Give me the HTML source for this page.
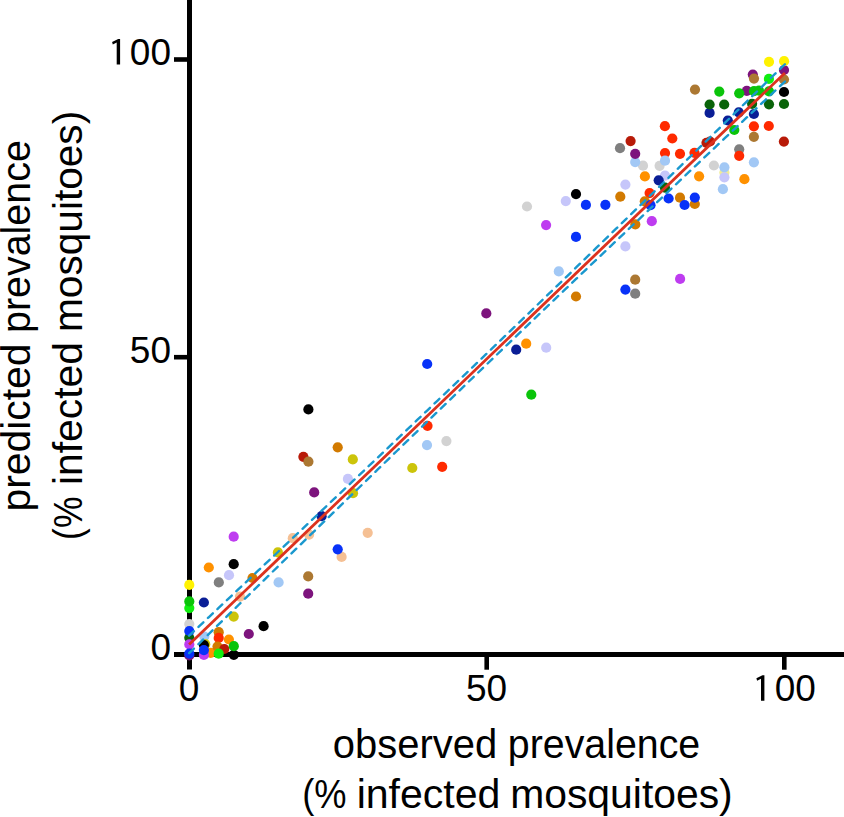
<!DOCTYPE html>
<html><head><meta charset="utf-8"><style>
html,body{margin:0;padding:0;background:#fff;}
svg{display:block;}
text{font-family:"Liberation Sans",sans-serif;fill:#000;}
</style></head><body>
<svg width="844" height="817" viewBox="0 0 844 817">
<rect width="844" height="817" fill="#fff"/>
<g stroke="#000" fill="none">
<line x1="189.5" y1="0" x2="189.5" y2="669.5" stroke-width="5"/>
<line x1="174" y1="654.5" x2="844" y2="654.5" stroke-width="5"/>
<line x1="174" y1="59.5" x2="190" y2="59.5" stroke-width="4.6"/>
<line x1="174" y1="357.2" x2="190" y2="357.2" stroke-width="4.6"/>
<line x1="486.7" y1="654" x2="486.7" y2="669.7" stroke-width="4.6"/>
<line x1="784.3" y1="654" x2="784.3" y2="669.7" stroke-width="4.6"/>
</g>
<g><circle cx="189.3" cy="584.9" r="5.1" fill="#FFF200"/>
<circle cx="189.3" cy="608.1" r="5.1" fill="#10EE10"/>
<circle cx="189.3" cy="601.4" r="5.1" fill="#0AC40A"/>
<circle cx="189.3" cy="624.0" r="5.1" fill="#D2D2D2"/>
<circle cx="189.3" cy="637.8" r="5.1" fill="#0A640A"/>
<circle cx="189.3" cy="631.0" r="5.1" fill="#0832F8"/>
<circle cx="189.3" cy="655.5" r="5.1" fill="#7D147D"/>
<circle cx="189.3" cy="644.4" r="5.1" fill="#BE3CF0"/>
<circle cx="189.3" cy="653.6" r="5.1" fill="#0832F8"/>
<circle cx="203.9" cy="602.5" r="5.1" fill="#0A1E96"/>
<circle cx="204.3" cy="636.5" r="5.1" fill="#A2C8F5"/>
<circle cx="210.7" cy="652.8" r="5.1" fill="#FF9100"/>
<circle cx="205.2" cy="644.2" r="5.1" fill="#CCC40A"/>
<circle cx="203.9" cy="645.0" r="5.1" fill="#000000"/>
<circle cx="203.9" cy="654.9" r="5.1" fill="#BE3CF0"/>
<circle cx="203.9" cy="650.1" r="5.1" fill="#0832F8"/>
<circle cx="208.8" cy="567.5" r="5.1" fill="#FF9100"/>
<circle cx="218.8" cy="582.4" r="5.1" fill="#7F7F7F"/>
<circle cx="218.7" cy="632.2" r="5.1" fill="#D27A00"/>
<circle cx="218.7" cy="637.9" r="5.1" fill="#FF2A00"/>
<circle cx="217.5" cy="646.6" r="5.1" fill="#D27A00"/>
<circle cx="224.3" cy="649.0" r="5.1" fill="#B81A08"/>
<circle cx="218.7" cy="653.7" r="5.1" fill="#10EE10"/>
<circle cx="229.0" cy="575.2" r="5.1" fill="#C6C6FA"/>
<circle cx="233.8" cy="654.8" r="5.1" fill="#000000"/>
<circle cx="228.9" cy="639.5" r="5.1" fill="#FF9100"/>
<circle cx="233.8" cy="646.2" r="5.1" fill="#0AC40A"/>
<circle cx="233.7" cy="564.2" r="5.1" fill="#000000"/>
<circle cx="233.7" cy="616.6" r="5.1" fill="#CCC40A"/>
<circle cx="233.7" cy="536.7" r="5.1" fill="#BE3CF0"/>
<circle cx="240.0" cy="596.6" r="5.1" fill="#F5C094"/>
<circle cx="248.8" cy="634.0" r="5.1" fill="#7D147D"/>
<circle cx="252.5" cy="578.0" r="5.1" fill="#D27A00"/>
<circle cx="263.6" cy="626.2" r="5.1" fill="#000000"/>
<circle cx="277.9" cy="552.4" r="5.1" fill="#CCC40A"/>
<circle cx="278.6" cy="582.4" r="5.1" fill="#A2C8F5"/>
<circle cx="292.8" cy="538.2" r="5.1" fill="#F5C094"/>
<circle cx="308.2" cy="576.4" r="5.1" fill="#AC7832"/>
<circle cx="308.2" cy="593.7" r="5.1" fill="#7D147D"/>
<circle cx="309.1" cy="534.6" r="5.1" fill="#F5C094"/>
<circle cx="314.2" cy="492.4" r="5.1" fill="#7D147D"/>
<circle cx="321.6" cy="516.2" r="5.1" fill="#0A1E96"/>
<circle cx="308.4" cy="409.4" r="5.1" fill="#000000"/>
<circle cx="303.4" cy="456.8" r="5.1" fill="#B81A08"/>
<circle cx="308.4" cy="461.7" r="5.1" fill="#AC7832"/>
<circle cx="337.7" cy="447.3" r="5.1" fill="#D27A00"/>
<circle cx="352.8" cy="459.4" r="5.1" fill="#CCC40A"/>
<circle cx="347.9" cy="478.9" r="5.1" fill="#C6C6FA"/>
<circle cx="353.0" cy="493.2" r="5.1" fill="#CCC40A"/>
<circle cx="367.7" cy="532.8" r="5.1" fill="#F5C094"/>
<circle cx="341.6" cy="556.9" r="5.1" fill="#F5C094"/>
<circle cx="337.7" cy="549.3" r="5.1" fill="#0832F8"/>
<circle cx="412.3" cy="468.0" r="5.1" fill="#CCC40A"/>
<circle cx="442.2" cy="466.8" r="5.1" fill="#FF2A00"/>
<circle cx="427.0" cy="445.1" r="5.1" fill="#A2C8F5"/>
<circle cx="446.4" cy="441.1" r="5.1" fill="#D2D2D2"/>
<circle cx="427.5" cy="425.8" r="5.1" fill="#FF2A00"/>
<circle cx="427.2" cy="364.0" r="5.1" fill="#0832F8"/>
<circle cx="486.3" cy="313.4" r="5.1" fill="#7D147D"/>
<circle cx="526.2" cy="343.7" r="5.1" fill="#FF9100"/>
<circle cx="516.2" cy="349.7" r="5.1" fill="#0A1E96"/>
<circle cx="546.2" cy="347.7" r="5.1" fill="#C6C6FA"/>
<circle cx="531.3" cy="394.7" r="5.1" fill="#0AC40A"/>
<circle cx="558.8" cy="271.4" r="5.1" fill="#A2C8F5"/>
<circle cx="576.0" cy="296.5" r="5.1" fill="#D27A00"/>
<circle cx="546.1" cy="225.1" r="5.1" fill="#BE3CF0"/>
<circle cx="576.0" cy="236.9" r="5.1" fill="#0832F8"/>
<circle cx="527.0" cy="206.5" r="5.1" fill="#D2D2D2"/>
<circle cx="565.8" cy="201.1" r="5.1" fill="#C6C6FA"/>
<circle cx="576.0" cy="194.1" r="5.1" fill="#000000"/>
<circle cx="585.9" cy="204.9" r="5.1" fill="#0832F8"/>
<circle cx="605.4" cy="204.8" r="5.1" fill="#0832F8"/>
<circle cx="620.3" cy="196.7" r="5.1" fill="#D27A00"/>
<circle cx="625.4" cy="184.6" r="5.1" fill="#C6C6FA"/>
<circle cx="625.4" cy="246.4" r="5.1" fill="#C6C6FA"/>
<circle cx="635.3" cy="224.4" r="5.1" fill="#D27A00"/>
<circle cx="651.8" cy="221.2" r="5.1" fill="#BE3CF0"/>
<circle cx="635.2" cy="279.7" r="5.1" fill="#AC7832"/>
<circle cx="625.4" cy="289.6" r="5.1" fill="#0832F8"/>
<circle cx="635.2" cy="293.7" r="5.1" fill="#7F7F7F"/>
<circle cx="680.1" cy="278.9" r="5.1" fill="#BE3CF0"/>
<circle cx="620.0" cy="148.2" r="5.1" fill="#7F7F7F"/>
<circle cx="630.6" cy="141.1" r="5.1" fill="#B81A08"/>
<circle cx="643.0" cy="165.7" r="5.1" fill="#D2D2D2"/>
<circle cx="635.2" cy="162.1" r="5.1" fill="#A2C8F5"/>
<circle cx="635.2" cy="153.8" r="5.1" fill="#7D147D"/>
<circle cx="644.9" cy="176.4" r="5.1" fill="#FF9100"/>
<circle cx="664.9" cy="126.2" r="5.1" fill="#FF2A00"/>
<circle cx="672.3" cy="138.5" r="5.1" fill="#FF2A00"/>
<circle cx="665.0" cy="153.0" r="5.1" fill="#FF2A00"/>
<circle cx="680.0" cy="153.8" r="5.1" fill="#FF2A00"/>
<circle cx="659.6" cy="165.8" r="5.1" fill="#D2D2D2"/>
<circle cx="665.0" cy="160.7" r="5.1" fill="#A2C8F5"/>
<circle cx="665.0" cy="175.7" r="5.1" fill="#C6C6FA"/>
<circle cx="658.7" cy="180.3" r="5.1" fill="#0A1E96"/>
<circle cx="664.9" cy="187.6" r="5.1" fill="#0A640A"/>
<circle cx="649.6" cy="193.1" r="5.1" fill="#FF2A00"/>
<circle cx="644.8" cy="201.3" r="5.1" fill="#D27A00"/>
<circle cx="650.5" cy="205.2" r="5.1" fill="#0832F8"/>
<circle cx="668.6" cy="198.5" r="5.1" fill="#0832F8"/>
<circle cx="680.0" cy="197.7" r="5.1" fill="#D27A00"/>
<circle cx="684.6" cy="205.0" r="5.1" fill="#0832F8"/>
<circle cx="694.8" cy="204.0" r="5.1" fill="#D27A00"/>
<circle cx="694.8" cy="197.6" r="5.1" fill="#0832F8"/>
<circle cx="699.1" cy="176.3" r="5.1" fill="#FF9100"/>
<circle cx="694.5" cy="152.8" r="5.1" fill="#FF2A00"/>
<circle cx="706.5" cy="142.8" r="5.1" fill="#B81A08"/>
<circle cx="710.0" cy="141.5" r="5.1" fill="#B81A08"/>
<circle cx="713.9" cy="165.5" r="5.1" fill="#D2D2D2"/>
<circle cx="724.4" cy="172.5" r="5.1" fill="#F0EC96"/>
<circle cx="724.4" cy="167.3" r="5.1" fill="#A2C8F5"/>
<circle cx="724.4" cy="177.3" r="5.1" fill="#C6C6FA"/>
<circle cx="722.9" cy="189.2" r="5.1" fill="#A2C8F5"/>
<circle cx="744.4" cy="179.2" r="5.1" fill="#FF9100"/>
<circle cx="739.2" cy="149.3" r="5.1" fill="#7F7F7F"/>
<circle cx="739.2" cy="155.8" r="5.1" fill="#FF2A00"/>
<circle cx="753.9" cy="162.3" r="5.1" fill="#A2C8F5"/>
<circle cx="753.9" cy="136.8" r="5.1" fill="#AC7832"/>
<circle cx="753.9" cy="126.3" r="5.1" fill="#FF2A00"/>
<circle cx="768.8" cy="126.0" r="5.1" fill="#FF2A00"/>
<circle cx="783.9" cy="141.6" r="5.1" fill="#B81A08"/>
<circle cx="734.3" cy="130.0" r="5.1" fill="#0AC40A"/>
<circle cx="727.8" cy="120.5" r="5.1" fill="#0A1E96"/>
<circle cx="709.6" cy="112.9" r="5.1" fill="#0A1E96"/>
<circle cx="738.8" cy="112.3" r="5.1" fill="#0A1E96"/>
<circle cx="753.9" cy="114.0" r="5.1" fill="#0A1E96"/>
<circle cx="709.6" cy="104.5" r="5.1" fill="#0A640A"/>
<circle cx="724.2" cy="104.5" r="5.1" fill="#0A640A"/>
<circle cx="752.1" cy="103.8" r="5.1" fill="#0A640A"/>
<circle cx="769.0" cy="104.3" r="5.1" fill="#0A640A"/>
<circle cx="784.0" cy="104.0" r="5.1" fill="#0A640A"/>
<circle cx="784.0" cy="92.0" r="5.1" fill="#000000"/>
<circle cx="784.0" cy="79.5" r="5.1" fill="#AC7832"/>
<circle cx="784.0" cy="70.0" r="5.1" fill="#7D147D"/>
<circle cx="784.1" cy="61.2" r="5.1" fill="#FFF200"/>
<circle cx="769.0" cy="61.8" r="5.1" fill="#FFF200"/>
<circle cx="768.9" cy="78.9" r="5.1" fill="#10EE10"/>
<circle cx="769.0" cy="91.3" r="5.1" fill="#0AC40A"/>
<circle cx="752.8" cy="74.6" r="5.1" fill="#7D147D"/>
<circle cx="754.0" cy="78.6" r="5.1" fill="#AC7832"/>
<circle cx="746.8" cy="90.9" r="5.1" fill="#7D147D"/>
<circle cx="754.0" cy="91.2" r="5.1" fill="#0AC40A"/>
<circle cx="759.0" cy="90.7" r="5.1" fill="#0AC40A"/>
<circle cx="739.2" cy="93.3" r="5.1" fill="#0AC40A"/>
<circle cx="719.3" cy="91.6" r="5.1" fill="#0AC40A"/>
<circle cx="695.0" cy="89.6" r="5.1" fill="#AC7832"/></g>
<path d="M189.1,644.5 L784.9,72.9" stroke="#DC321E" stroke-width="2.8" fill="none"/>
<path d="M784.90,64.24 L774.97,73.95 L765.04,83.65 L755.11,93.34 L745.18,103.04 L735.25,112.73 L725.32,122.42 L715.39,132.11 L705.46,141.79 L695.53,151.47 L685.60,161.14 L675.67,170.81 L665.74,180.48 L655.81,190.14 L645.88,199.79 L635.95,209.44 L626.02,219.09 L616.09,228.72 L606.16,238.35 L596.23,247.98 L586.30,257.59 L576.37,267.20 L566.44,276.80 L556.51,286.40 L546.58,295.98 L536.65,305.56 L526.72,315.12 L516.79,324.68 L506.86,334.23 L496.93,343.77 L487.00,353.30 L477.07,362.81 L467.14,372.32 L457.21,381.82 L447.28,391.32 L437.35,400.80 L427.42,410.27 L417.49,419.73 L407.56,429.19 L397.63,438.64 L387.70,448.08 L377.77,457.51 L367.84,466.93 L357.91,476.35 L347.98,485.77 L338.05,495.17 L328.12,504.57 L318.19,513.97 L308.26,523.36 L298.33,532.74 L288.40,542.12 L278.47,551.50 L268.54,560.87 L258.61,570.24 L248.68,579.61 L238.75,588.97 L228.82,598.33 L218.89,607.69 L208.96,617.04 L199.03,626.39 L189.10,635.74" stroke="#1A98CE" stroke-width="2.4" fill="none" stroke-dasharray="6.7 6.3" stroke-linecap="round"/>
<path d="M784.90,81.56 L774.97,90.91 L765.04,100.26 L755.11,109.62 L745.18,118.97 L735.25,128.33 L725.32,137.70 L715.39,147.07 L705.46,156.44 L695.53,165.81 L685.60,175.19 L675.67,184.57 L665.74,193.96 L655.81,203.36 L645.88,212.75 L635.95,222.16 L626.02,231.57 L616.09,240.98 L606.16,250.41 L596.23,259.84 L586.30,269.27 L576.37,278.72 L566.44,288.17 L556.51,297.63 L546.58,307.10 L536.65,316.58 L526.72,326.06 L516.79,335.56 L506.86,345.06 L496.93,354.58 L487.00,364.10 L477.07,373.64 L467.14,383.18 L457.21,392.74 L447.28,402.30 L437.35,411.87 L427.42,421.45 L417.49,431.04 L407.56,440.64 L397.63,450.24 L387.70,459.86 L377.77,469.48 L367.84,479.11 L357.91,488.74 L347.98,498.38 L338.05,508.03 L328.12,517.68 L318.19,527.34 L308.26,537.00 L298.33,546.67 L288.40,556.34 L278.47,566.02 L268.54,575.70 L258.61,585.38 L248.68,595.07 L238.75,604.76 L228.82,614.46 L218.89,624.15 L208.96,633.85 L199.03,643.56 L189.10,653.26" stroke="#1A98CE" stroke-width="2.4" fill="none" stroke-dasharray="6.7 6.3" stroke-linecap="round"/>

<path d="M118.20,39.10 L120.10,39.10 L120.10,64.60 L116.70,64.60 L116.70,42.40 L112.80,44.50 L112.10,42.00 Z" fill="#000"/><path d="M762.50,675.35 L764.40,675.35 L764.40,700.75 L761.00,700.75 L761.00,678.65 L757.10,680.75 L756.40,678.25 Z" fill="#000"/>
<g font-size="37">
<text x="171" y="64.5" text-anchor="end">00</text>
<text x="171" y="362.5" text-anchor="end">50</text>
<text x="171" y="660" text-anchor="end">0</text>
<text x="189" y="701" text-anchor="middle">0</text>
<text x="486.5" y="701" text-anchor="middle">50</text>
<text x="815.86" y="701" text-anchor="end">00</text>
</g>
<g font-size="40.5"><text transform="translate(332.83,757.7) scale(0.9870,1)">observed</text><text transform="translate(507.79,757.7) scale(0.9715,1)">prevalence</text><text transform="translate(302.21,808.2) scale(0.8956,1)">(%</text><text transform="translate(356.66,808.2) scale(1.0140,1)">infected</text><text transform="translate(510.17,808.2) scale(1.0093,1)">mosquitoes)</text><text transform="translate(30.4,511.53) rotate(-90) scale(1.0087,1)">predicted</text><text transform="translate(30.4,333.02) rotate(-90) scale(0.9736,1)">prevalence</text><text transform="translate(81.5,539.93) rotate(-90) scale(0.8778,1)">(%</text><text transform="translate(81.5,485.02) rotate(-90) scale(1.0077,1)">infected</text><text transform="translate(81.5,332.01) rotate(-90) scale(1.0033,1)">mosquitoes)</text></g>
</svg>
</body></html>
